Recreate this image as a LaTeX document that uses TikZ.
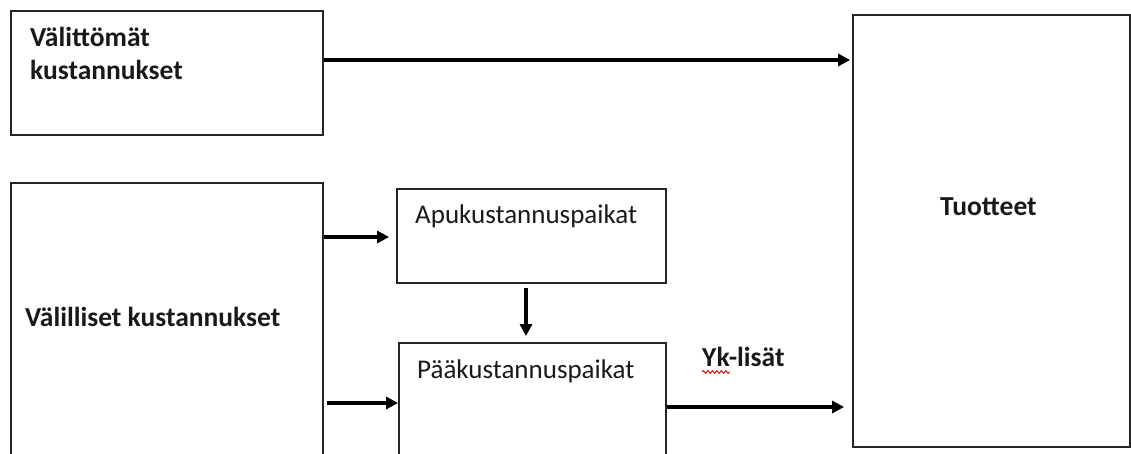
\documentclass[tikz,border=0pt]{standalone}
\usepackage{fontspec}
\setmainfont{Carlito}
\usetikzlibrary{arrows.meta,decorations.pathmorphing}
\begin{document}
\begin{tikzpicture}[x=1pt,y=-1pt,
  box/.style={draw=black!85,line width=1.8pt,minimum width=#1,inner sep=0pt},
  lbl/.style={inner sep=0pt,font=\fontsize{27}{33}\selectfont,text=black!90},
  blbl/.style={lbl,font=\fontsize{27.5}{33}\selectfont\bfseries},
  arr/.style={line width=3.4pt,-{Triangle[length=12pt,width=12pt]}}]
\useasboundingbox (0,0) rectangle (1131,454);
\clip (0,0) rectangle (1131,454);
\node[box=312pt,minimum height=124pt] (vt) at (167,73) {};
\node[box=312pt,minimum height=297pt] (vl) at (167,331.5) {};
\node[box=269pt,minimum height=94pt] (apu) at (531.5,236) {};
\node[box=267pt,minimum height=137pt] (paa) at (532.5,411.5) {};
\node[box=277pt,minimum height=432pt] (tuo) at (991.5,231) {};
\node[blbl,align=left,anchor=north west] (tvt) at (30,27) {Välittömät\\kustannukset};
\node[blbl,anchor=base west] (tvl) at (25,326) {Välilliset kustannukset};
\node[lbl,anchor=base west] (tapu) at (415,224) {Apukustannuspaikat};
\node[lbl,anchor=base west] (tpaa) at (417,378) {Pääkustannuspaikat};
\node[blbl,anchor=base west] (tyk) at (702,366) {Yk-lisät};
\node[blbl,anchor=base west] (ttuo) at (940,216) {Tuotteet};
\coordinate (w1) at (702,372);
\coordinate (w2) at (730,372);
\draw[red!80!black,line width=0.9pt,decorate,decoration={snake,amplitude=1.4pt,segment length=4.5pt}] (w1) -- (w2);
\draw[arr,shorten >=2pt] (vt.east |- 0,60) -- (tuo.west |- 0,60);
\draw[arr,shorten >=7pt] (vl.east |- 0,237) -- (apu.west |- 0,237);
\draw[arr,shorten <=3pt] (vl.east |- 0,403) -- (paa.west |- 0,403);
\draw[arr,shorten <=4pt,shorten >=6pt] (apu.south -| 526,0) -- (paa.north -| 526,0);
\draw[arr,shorten >=8pt] (paa.east |- 0,407) -- (tuo.west |- 0,407);
\end{tikzpicture}
\end{document}
